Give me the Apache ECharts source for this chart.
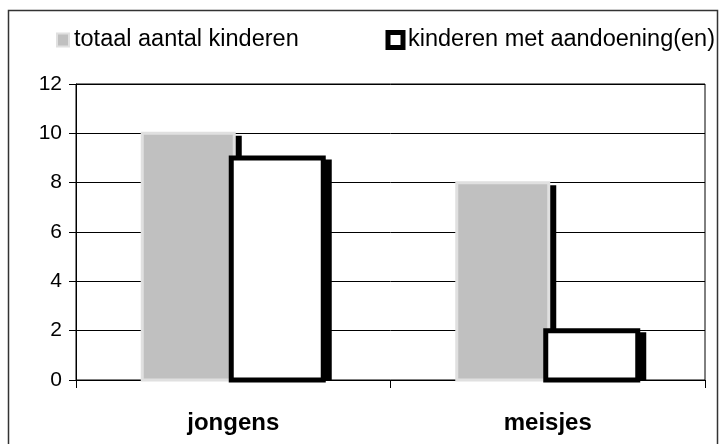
<!DOCTYPE html>
<html>
<head>
<meta charset="utf-8">
<script src="https://cdn.jsdelivr.net/npm/echarts@6/dist/echarts.min.js"></script>
<style>
html,body{margin:0;padding:0;background:#fff;}
#c{width:719px;height:444px;}
</style>
</head>
<body>
<div id="c"></div>
<script>
var categories = ['jongens', 'meisjes'];
var seriesNames = ['totaal aantal kinderen', 'kinderen met aandoening(en)'];
var totaal = [10, 8];
var aandoening = [9, 2];
var yTicks = [0, 2, 4, 6, 8, 10, 12];

var FONT = '"Liberation Sans", Arial, sans-serif';

// bar styling (pixels)
var BAR_W = 92;
var SHADOW_DX = 6, SHADOW_DY = 4;
var barStyles = [
  {offset: -91, fill: '#c0c0c0', stroke: '#e0e0e0', lw: 3},
  {offset: -2, fill: '#ffffff', stroke: '#000000', lw: 5}
];

function makeRender(k) {
  var st = barStyles[k];
  return function (params, api) {
    var cat = api.value(0), val = api.value(1);
    var p0 = api.coord([cat, 0]);
    var p1 = api.coord([cat, val]);
    var x = p0[0] + st.offset;
    var y = p1[1];
    var h = p0[1] - p1[1];
    var half = st.lw / 2;
    return {
      type: 'group',
      children: [{
        type: 'rect',
        shape: {x: x - half + SHADOW_DX, y: y - half + SHADOW_DY, width: BAR_W + st.lw, height: h + half - SHADOW_DY + 1},
        style: {fill: '#000000'}
      }, {
        type: 'rect',
        shape: {x: x, y: y, width: BAR_W, height: h},
        style: {fill: st.fill, stroke: st.stroke, lineWidth: st.lw}
      }]
    };
  };
}

function pairs(arr) { return arr.map(function (v, i) { return [i, v]; }); }

var chart = echarts.init(document.getElementById('c'), null, {renderer: 'canvas'});
chart.setOption({
  animation: false,
  backgroundColor: '#ffffff',
  graphic: [{
    type: 'rect',
    shape: {x: 8.5, y: 10.5, width: 709, height: 445},
    style: {fill: 'none', stroke: '#333333', lineWidth: 1.5},
    silent: true,
    z: 0
  }],
  legend: [{
    left: 56, top: 28, padding: 0,
    itemWidth: 12, itemHeight: 13,
    textStyle: {fontFamily: FONT, fontSize: 23.5, color: '#000'},
    data: [{name: seriesNames[0], icon: 'rect',
      itemStyle: {color: '#c0c0c0', borderColor: '#e0e0e0', borderWidth: 2}}]
  }, {
    left: 385.5, top: 28, padding: 0,
    itemWidth: 15, itemHeight: 15,
    textStyle: {fontFamily: FONT, fontSize: 23.5, color: '#000'},
    data: [{name: seriesNames[1], icon: 'rect',
      itemStyle: {color: '#ffffff', borderColor: '#000000', borderWidth: 5}}]
  }],
  grid: {
    left: 76, right: 14, top: 84, bottom: 64,
    show: true, borderColor: '#000', borderWidth: 1, backgroundColor: 'transparent'
  },
  xAxis: {
    type: 'category',
    data: categories,
    axisLine: {lineStyle: {color: '#000', width: 1}},
    axisTick: {show: true, length: 8, alignWithLabel: false, lineStyle: {color: '#000'}},
    axisLabel: {fontFamily: FONT, fontSize: 24, fontWeight: 'bold', color: '#000', margin: 31},
    splitLine: {show: false}
  },
  yAxis: {
    type: 'value',
    min: yTicks[0], max: yTicks[yTicks.length - 1], interval: yTicks[1] - yTicks[0],
    axisLine: {show: true, lineStyle: {color: '#000', width: 1}},
    axisTick: {show: true, length: 7, lineStyle: {color: '#000'}},
    axisLabel: {fontFamily: FONT, fontSize: 21, color: '#000', margin: 14},
    splitLine: {show: true, lineStyle: {color: '#000', width: 1}}
  },
  series: [{
    name: seriesNames[0],
    type: 'custom',
    data: pairs(totaal),
    encode: {x: 0, y: 1},
    renderItem: makeRender(0),
    itemStyle: {color: '#c0c0c0'},
    z: 2
  }, {
    name: seriesNames[1],
    type: 'custom',
    data: pairs(aandoening),
    encode: {x: 0, y: 1},
    renderItem: makeRender(1),
    itemStyle: {color: '#ffffff'},
    z: 3
  }]
});
</script>
</body>
</html>
